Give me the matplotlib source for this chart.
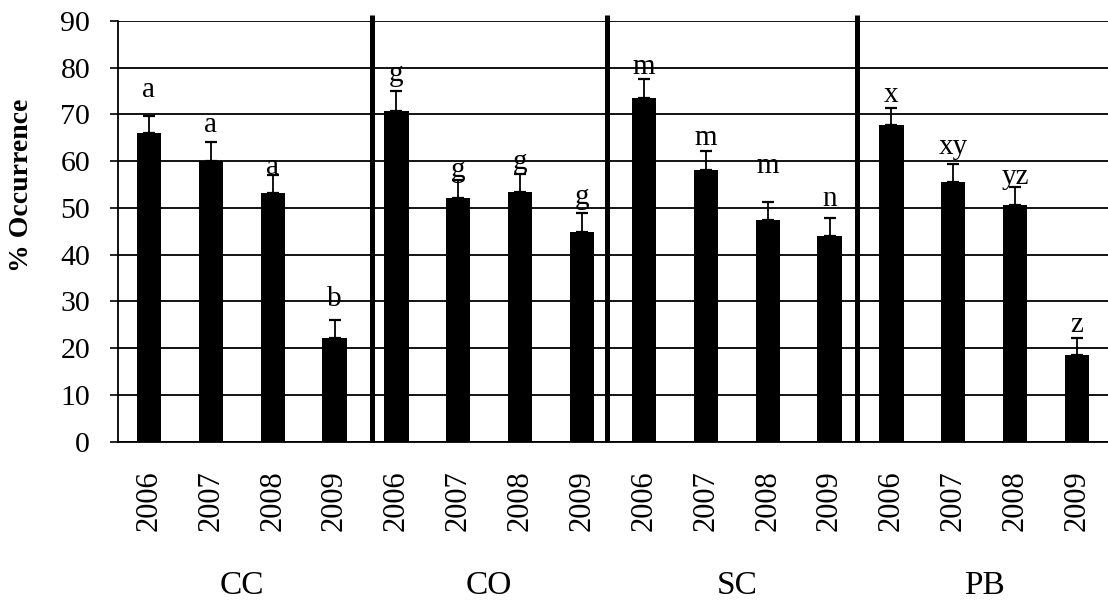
import matplotlib
matplotlib.use("Agg")
import matplotlib.pyplot as plt
import numpy as np

plt.rcParams['font.family'] = ['Liberation Serif', 'DejaVu Serif']

groups = ["CC", "CO", "SC", "PB"]
years = ["2006", "2007", "2008", "2009"]

cc_vals = [66.0, 60.0, 53.2, 22.2]
co_vals = [70.8, 52.2, 53.4, 44.9]
sc_vals = [73.5, 58.2, 47.5, 43.9]
pb_vals = [67.7, 55.5, 50.6, 18.6]

cc_err = [3.7, 4.0, 3.9, 3.9]
co_err = [4.2, 3.7, 3.9, 4.0]
sc_err = [4.0, 3.9, 3.8, 3.9]
pb_err = [3.7, 3.9, 3.8, 3.6]

cc_letters = ["a", "a", "a", "b"]
co_letters = ["g", "g", "g", "g"]
sc_letters = ["m", "m", "m", "n"]
pb_letters = ["x", "xy", "yz", "z"]

cc_label_y = [75.2, 67.7, 58.7, 30.6]
co_label_y = [78.7, 58.1, 59.9, 52.3]
sc_label_y = [80.2, 64.9, 59.0, 51.9]
pb_label_y = [74.2, 63.1, 56.7, 24.9]

values = cc_vals + co_vals + sc_vals + pb_vals
errors = cc_err + co_err + sc_err + pb_err
letters = cc_letters + co_letters + sc_letters + pb_letters
label_y = cc_label_y + co_label_y + sc_label_y + pb_label_y
xlabels = years * len(groups)

fig = plt.figure(figsize=(11.08, 6.0), dpi=100)
ax = fig.add_axes([118 / 1108, 1 - 441.5 / 600, 990 / 1108, 420.5 / 600])

x = np.arange(len(values))
ax.set_xlim(-0.5, len(values) - 0.5)
ax.set_ylim(0, 90)

ax.set_yticks(np.arange(0, 91, 10))
ax.yaxis.grid(True, color='black', linewidth=1.3)
ax.set_axisbelow(True)

ax.bar(x, values, width=0.39, color='black', zorder=3)
ax.errorbar(x, values, yerr=[np.zeros(len(errors)), errors], fmt='none',
            ecolor='black', elinewidth=1.3, capsize=4.5, capthick=1.6, zorder=4)

for xi, lab, ly in zip(x, letters, label_y):
    ax.text(xi, ly, lab, ha='center', va='center', fontsize=21, zorder=5)

# group separators
for sx in [3.6, 7.4, 11.45]:
    ax.plot([sx, sx], [0, 91.2], color='black', linewidth=3.6, clip_on=False,
            solid_capstyle='butt', zorder=4)

for s in ['top', 'right']:
    ax.spines[s].set_visible(False)
ax.spines['left'].set_linewidth(1.3)
ax.spines['bottom'].set_linewidth(1.3)

ax.set_xticks(x)
ax.set_xticklabels(xlabels, rotation=90, fontsize=22)
ax.tick_params(axis='x', length=0, pad=21)
ax.tick_params(axis='y', direction='out', length=6, width=1.2, pad=14, labelsize=21.5)

ax.set_ylabel("% Occurrence", fontsize=20, fontweight='bold')
ax.yaxis.set_label_coords(-0.085, 0.61)

for gi, g in enumerate(groups):
    ax.text(gi * 4 + 1.5, -0.344, g, transform=ax.get_xaxis_transform(),
            ha='center', va='center', fontsize=24)

fig.savefig("out.png", dpi=100)
